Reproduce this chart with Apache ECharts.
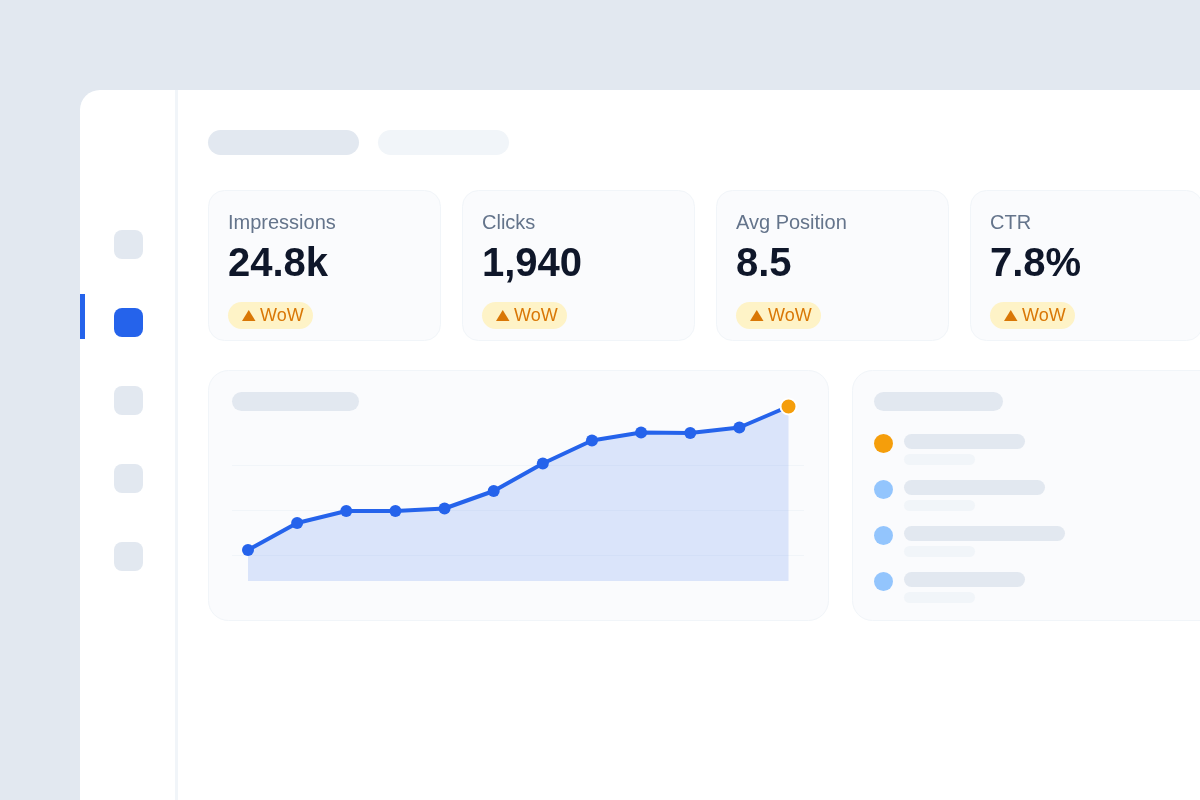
<!DOCTYPE html>
<html>
<head>
<meta charset="utf-8">
<title>Dashboard</title>
<script src="https://cdn.jsdelivr.net/npm/echarts@6/dist/echarts.min.js"></script>
<style>
html, body { margin: 0; padding: 0; background: #e2e8f0; }
#main { width: 1200px; height: 800px; }
</style>
</head>
<body>
<div id="main"></div>
<script>
// chart data (no axis labels, so height above the baseline)
var weeks = ['W1', 'W2', 'W3', 'W4', 'W5', 'W6', 'W7', 'W8', 'W9', 'W10', 'W11', 'W12'];
var trend = [31, 58, 70, 70, 72.5, 90, 117.5, 140.5, 148.5, 148, 153.5, 174.5];

// kpi cards
var kpiLabels = ['Impressions', 'Clicks', 'Avg Position', 'CTR'];
var kpiValues = ['24.8k', '1,940', '8.5', '7.8%'];
var kpiBadge = 'WoW';

// placeholder list on the right
var listWidths = [121, 141, 161, 121];
var listColors = ['#f59e0b', '#93c5fd', '#93c5fd', '#93c5fd'];

var FONT = '"Liberation Sans", Arial, sans-serif';
var BLUE = '#2563eb';
var ORANGE = '#f59e0b';
var LINE = '#f1f5f9';
var PILL = '#e2e8f0';
var PANEL = '#fafbfd';

function box(x, y, w, h, r, fill, stroke) {
	var style = { fill: fill };
	if (stroke) {
		style.stroke = stroke;
		style.lineWidth = 1;
	}
	return {
		type: 'rect',
		silent: true,
		shape: { x: x, y: y, width: w, height: h, r: r },
		style: style
	};
}

// y is the top of the text box
function label(x, y, text, font, color) {
	return {
		type: 'text',
		silent: true,
		x: x,
		y: y,
		style: { text: text, font: font, fill: color }
	};
}

var shapes = [];

// white sheet and sidebar
shapes.push(box(80, 90, 1160, 750, [20, 0, 0, 0], '#ffffff'));
shapes.push(box(175, 90, 3, 710, 0, LINE));
shapes.push(box(80, 294, 5, 45, 0, BLUE));
for (var i = 0; i < 5; i++) {
	shapes.push(box(114, 230 + i * 78, 29, 29, 8, i === 1 ? BLUE : PILL));
}

// top pills
shapes.push(box(208, 130, 151, 25, 12.5, PILL));
shapes.push(box(378, 130, 131, 25, 12.5, LINE));

// kpi cards
for (var k = 0; k < kpiLabels.length; k++) {
	var cx = 208 + k * 254;
	shapes.push(box(cx + 0.5, 190.5, 232, 150, 16, PANEL, LINE));
	shapes.push(label(cx + 20, 213, kpiLabels[k], '20px ' + FONT, '#64748b'));
	shapes.push(label(cx + 20, 245, kpiValues[k], 'bold 40px ' + FONT, '#0f172a'));
	shapes.push(box(cx + 20, 302, 85, 27, 13.5, '#fef3c7'));
	shapes.push({
		type: 'polygon',
		silent: true,
		shape: { points: [[cx + 34, 321], [cx + 47.5, 321], [cx + 40.75, 310]] },
		style: { fill: '#d97706' }
	});
	shapes.push(label(cx + 52, 307, kpiBadge, '18px ' + FONT, '#d97706'));
}

// chart panel
shapes.push(box(208.5, 370.5, 620, 250, 20, PANEL, LINE));
shapes.push(box(232, 392, 127, 19, 9.5, PILL));

// list panel
shapes.push(box(852.5, 370.5, 400, 250, 20, PANEL, LINE));
shapes.push(box(874, 392, 129, 19, 9.5, PILL));
for (var n = 0; n < listWidths.length; n++) {
	var ny = n * 46;
	shapes.push({
		type: 'circle',
		silent: true,
		shape: { cx: 883.5, cy: 443.5 + ny, r: 9.5 },
		style: { fill: listColors[n] }
	});
	shapes.push(box(904, 434 + ny, listWidths[n], 15, 7.5, PILL));
	shapes.push(box(904, 454 + ny, 71, 11, 5.5, LINE));
}

var myChart = echarts.init(document.getElementById('main'));

var option = {
	animation: false,
	backgroundColor: '#e2e8f0',
	graphic: { z: -1, elements: shapes },
	grid: [
		{ left: 248, width: 540.5, top: 405, height: 176 },
		{ left: 232, width: 572, top: 465, height: 90 }
	],
	xAxis: [
		{ type: 'category', gridIndex: 0, data: weeks, boundaryGap: false, show: false },
		{ type: 'value', gridIndex: 1, min: 0, max: 1, show: false }
	],
	yAxis: [
		{ type: 'value', gridIndex: 0, min: 0, max: 176, show: false },
		{
			type: 'value',
			gridIndex: 1,
			min: 0,
			max: 90,
			interval: 45,
			axisLine: { show: false },
			axisTick: { show: false },
			axisLabel: { show: false },
			splitLine: { show: true, lineStyle: { color: LINE, width: 1 } }
		}
	],
	series: [{
		type: 'line',
		xAxisIndex: 0,
		yAxisIndex: 0,
		clip: false,
		smooth: false,
		symbol: 'circle',
		symbolSize: 12,
		showAllSymbol: true,
		lineStyle: { color: BLUE, width: 4 },
		itemStyle: { color: BLUE },
		areaStyle: { color: BLUE, opacity: 0.15 },
		data: trend.map(function(v, idx) {
			if (idx === trend.length - 1) {
				return {
					value: v,
					symbolSize: 16,
					itemStyle: { color: ORANGE, borderColor: '#ffffff', borderWidth: 2 }
				};
			}
			return v;
		})
	}]
};

myChart.setOption(option);
</script>
</body>
</html>
